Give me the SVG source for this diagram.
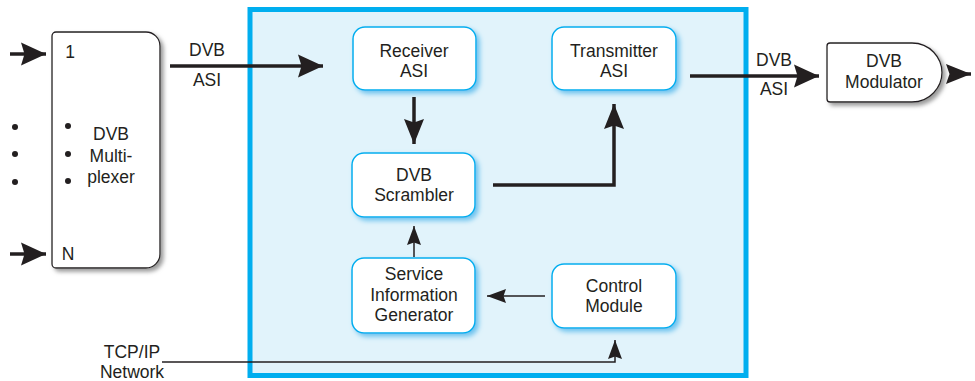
<svg xmlns="http://www.w3.org/2000/svg" width="975" height="381" viewBox="0 0 975 381">
<defs>
<style>
text{font-family:"Liberation Sans",Arial,sans-serif;font-size:17.5px;fill:#231f20;text-anchor:middle}
.node{fill:#fff;stroke:#00aeef;stroke-width:1.5}
.ext{fill:#fff;stroke:#231f20;stroke-width:1.3}
.thick{fill:none;stroke:#231f20;stroke-width:3.5}
.thin{fill:none;stroke:#231f20;stroke-width:1.5}
.dot{fill:#231f20}
</style>
<filter id="glow" x="-20%" y="-20%" width="150%" height="150%">
<feGaussianBlur in="SourceAlpha" stdDeviation="2.5"/>
<feOffset dx="3" dy="3" result="b"/>
<feFlood flood-color="#6cc2ee"/>
<feComposite in2="b" operator="in"/>
<feMerge><feMergeNode/><feMergeNode in="SourceGraphic"/></feMerge>
</filter>
<filter id="gshadow" x="-20%" y="-20%" width="150%" height="150%">
<feGaussianBlur in="SourceAlpha" stdDeviation="2"/>
<feOffset dx="3" dy="3" result="b"/>
<feFlood flood-color="#999"/>
<feComposite in2="b" operator="in"/>
<feMerge><feMergeNode/><feMergeNode in="SourceGraphic"/></feMerge>
</filter>
<marker id="big" markerUnits="userSpaceOnUse" markerWidth="1" markerHeight="1" refX="0" refY="0" orient="auto" overflow="visible">
<path d="M0,0 L-25,-11.5 L-21.5,0 L-25,11.5 Z" fill="#231f20"/>
</marker>
<marker id="med" markerUnits="userSpaceOnUse" markerWidth="1" markerHeight="1" refX="0" refY="0" orient="auto" overflow="visible">
<path d="M0,0 L-25,-10 L-21.5,0 L-25,10 Z" fill="#231f20"/>
</marker>
<marker id="small" markerUnits="userSpaceOnUse" markerWidth="1" markerHeight="1" refX="0" refY="0" orient="auto" overflow="visible">
<path d="M0,0 L-19,-7 L-16.5,0 L-19,7 Z" fill="#231f20"/>
</marker>
</defs>

<g id="frame">
<rect x="250" y="9.5" width="496" height="366" fill="#e1f3fb" stroke="#00aeef" stroke-width="5"/>
</g>

<g id="multiplexer">
<path class="ext" filter="url(#gshadow)" d="M56,32 H146 A14,14 0 0 1 160,46 V254 A14,14 0 0 1 146,268 H56 A4,4 0 0 1 52,264 V36 A4,4 0 0 1 56,32 Z"/>
<text x="70" y="58">1</text>
<text x="68" y="260">N</text>
<text x="111" y="140">DVB</text>
<text x="111" y="162">Multi-</text>
<text x="111" y="183">plexer</text>
<circle class="dot" cx="68" cy="126" r="3"/>
<circle class="dot" cx="68" cy="154" r="3"/>
<circle class="dot" cx="68" cy="181" r="3"/>
</g>

<g id="dots">
<circle class="dot" cx="15" cy="127" r="3"/>
<circle class="dot" cx="15" cy="154" r="3"/>
<circle class="dot" cx="15" cy="182" r="3"/>
</g>

<g id="receiver">
<rect class="node" filter="url(#glow)" x="353" y="27" width="123" height="63" rx="12"/>
<text x="414" y="57">Receiver</text>
<text x="414" y="77">ASI</text>
</g>

<g id="transmitter">
<rect class="node" filter="url(#glow)" x="552" y="27" width="124" height="63" rx="12"/>
<text x="614" y="57">Transmitter</text>
<text x="614" y="77">ASI</text>
</g>

<g id="scrambler">
<rect class="node" filter="url(#glow)" x="352" y="153" width="123" height="64" rx="12"/>
<text x="414" y="181">DVB</text>
<text x="414" y="201">Scrambler</text>
</g>

<g id="sig">
<rect class="node" filter="url(#glow)" x="352" y="258" width="123" height="75" rx="12"/>
<text x="414" y="280">Service</text>
<text x="414" y="301">Information</text>
<text x="414" y="321">Generator</text>
</g>

<g id="control">
<rect class="node" filter="url(#glow)" x="552" y="264" width="124" height="64" rx="12"/>
<text x="614" y="292">Control</text>
<text x="614" y="312">Module</text>
</g>

<g id="modulator">
<path class="ext" filter="url(#gshadow)" d="M830,43 H912 C930,43 942,58 942,72.5 C942,87 930,102 912,102 H830 A3,3 0 0 1 827,99 V46 A3,3 0 0 1 830,43 Z"/>
<text x="884" y="67">DVB</text>
<text x="884" y="88">Modulator</text>
</g>

<g id="labels">
<text x="207" y="56">DVB</text>
<text x="207" y="86">ASI</text>
<text x="774" y="66">DVB</text>
<text x="774" y="95">ASI</text>
<text x="132" y="358">TCP/IP</text>
<text x="132" y="378">Network</text>
</g>

<g id="connectors">
<line class="thick" x1="10" y1="54" x2="46" y2="54" marker-end="url(#big)"/>
<line class="thick" x1="10" y1="254" x2="46" y2="254" marker-end="url(#big)"/>
<line class="thick" x1="170" y1="66" x2="323" y2="66" marker-end="url(#big)"/>
<line class="thick" x1="690" y1="76" x2="819" y2="76" marker-end="url(#big)"/>
<line class="thick" x1="952" y1="74" x2="971" y2="74" marker-end="url(#med)"/>
<line class="thick" x1="414" y1="97" x2="414" y2="144" marker-end="url(#med)"/>
<polyline class="thick" points="493,185 614,185 614,104" marker-end="url(#med)"/>
<line class="thin" x1="414" y1="257" x2="414" y2="226" marker-end="url(#small)"/>
<line class="thin" x1="545" y1="296" x2="487" y2="296" marker-end="url(#small)"/>
<polyline class="thin" points="162,362 615,362 615,340" marker-end="url(#small)"/>
</g>
</svg>
